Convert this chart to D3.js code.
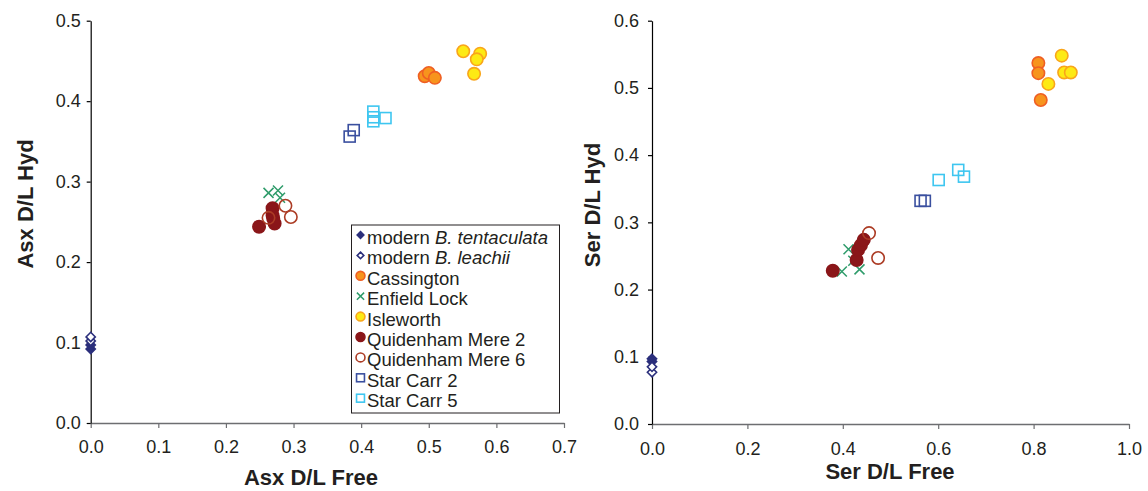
<!DOCTYPE html>
<html>
<head>
<meta charset="utf-8">
<script src="https://cdn.jsdelivr.net/npm/d3@7"></script>
<style>
  body { margin: 0; background: #fff; }
  svg { font-family: "Liberation Sans", Arial, sans-serif; }
</style>
</head>
<body>
<svg id="chart" width="1148" height="491"></svg>
<script>
// series, in legend order
var seriesNames = ["modern B. tentaculata", "modern B. leachii", "Cassington", "Enfield Lock",
    "Isleworth", "Quidenham Mere 2", "Quidenham Mere 6", "Star Carr 2", "Star Carr 5"];

// [free, hyd] pairs per series, Asx (left panel)
var asxPoints = [
    [[0, 0.092], [0, 0.097]],
    [[0, 0.102], [0, 0.107]],
    [[0.494, 0.431], [0.500, 0.435], [0.509, 0.429]],
    [[0.263, 0.286], [0.277, 0.289], [0.280, 0.280]],
    [[0.551, 0.462], [0.576, 0.459], [0.571, 0.452], [0.567, 0.434]],
    [[0.249, 0.244], [0.269, 0.267], [0.269, 0.258], [0.270, 0.254], [0.272, 0.248]],
    [[0.263, 0.255], [0.288, 0.270], [0.296, 0.256]],
    [[0.389, 0.364], [0.383, 0.356]],
    [[0.418, 0.387], [0.418, 0.380], [0.418, 0.375], [0.436, 0.379]]
];

// [free, hyd] pairs per series, Ser (right panel)
var serPoints = [
    [[0, 0.093], [0, 0.097]],
    [[0, 0.077], [0, 0.085]],
    [[0.810, 0.537], [0.810, 0.522], [0.815, 0.482]],
    [[0.412, 0.260], [0.398, 0.227], [0.435, 0.230], [0.422, 0.243]],
    [[0.859, 0.548], [0.864, 0.523], [0.878, 0.523], [0.831, 0.506]],
    [[0.379, 0.228], [0.429, 0.244], [0.432, 0.259], [0.438, 0.266], [0.444, 0.274]],
    [[0.455, 0.284], [0.474, 0.247]],
    [[0.563, 0.332], [0.572, 0.332]],
    [[0.601, 0.363], [0.642, 0.378], [0.654, 0.368]]
];

var asxXTicks = [0, 0.1, 0.2, 0.3, 0.4, 0.5, 0.6, 0.7];
var asxYTicks = [0, 0.1, 0.2, 0.3, 0.4, 0.5];
var serXTicks = [0, 0.2, 0.4, 0.6, 0.8, 1.0];
var serYTicks = [0, 0.1, 0.2, 0.3, 0.4, 0.5, 0.6];

// marker look for each series
var markerStyle = {
    "modern B. tentaculata": {shape: "diamond", fill: "#2b2f7c", stroke: "#2b2f7c"},
    "modern B. leachii":     {shape: "diamond", fill: "#fff", stroke: "#2b2f7c"},
    "Cassington":            {shape: "circle", fill: "#f7941d", stroke: "#ef5f23"},
    "Enfield Lock":          {shape: "cross", fill: "none", stroke: "#2f9c6b"},
    "Isleworth":             {shape: "circle", fill: "#fdea14", stroke: "#f9a51b"},
    "Quidenham Mere 2":      {shape: "circle", fill: "#8a1619", stroke: "#8a1619"},
    "Quidenham Mere 6":      {shape: "circle", fill: "none", stroke: "#ac3c25"},
    "Star Carr 2":           {shape: "square", fill: "none", stroke: "#3a4f9f"},
    "Star Carr 5":           {shape: "square", fill: "none", stroke: "#3ec6f0"}
};

var FONT = '"Liberation Sans", Arial, sans-serif';
var svg = d3.select("#chart");

function drawMarker(g, name, x, y, scale) {
    var st = markerStyle[name];
    var s = scale || 1;
    if (st.shape == "circle") {
        g.append("circle").attr("cx", x).attr("cy", y).attr("r", 6.2 * s)
            .attr("fill", st.fill).attr("stroke", st.stroke).attr("stroke-width", 1.6);
    } else if (st.shape == "square") {
        var h = 5.5 * s;
        g.append("rect").attr("x", x - h).attr("y", y - h).attr("width", 2 * h).attr("height", 2 * h)
            .attr("fill", st.fill).attr("stroke", st.stroke).attr("stroke-width", 1.6);
    } else if (st.shape == "diamond") {
        var d = 4.6 * s;
        g.append("path")
            .attr("d", "M" + x + "," + (y - d) + "L" + (x + d) + "," + y + "L" + x + "," + (y + d) + "L" + (x - d) + "," + y + "Z")
            .attr("fill", st.fill).attr("stroke", st.stroke).attr("stroke-width", 1.6);
    } else if (st.shape == "cross") {
        var c = 5 * s;
        g.append("path")
            .attr("d", "M" + (x - c) + "," + (y - c) + "L" + (x + c) + "," + (y + c) + "M" + (x - c) + "," + (y + c) + "L" + (x + c) + "," + (y - c))
            .attr("stroke", st.stroke).attr("stroke-width", 1.5).attr("fill", "none");
    }
}

function drawPanel(opts) {
    var x = d3.scaleLinear().domain(opts.xDomain).range([opts.left, opts.right]);
    var y = d3.scaleLinear().domain(opts.yDomain).range([opts.bottom, opts.top]);

    var gx = svg.append("g")
        .attr("transform", "translate(0," + opts.bottom + ")")
        .call(d3.axisBottom(x).tickValues(opts.xTicks).tickFormat(d3.format(".1f")).tickSize(5).tickSizeOuter(0))
        .attr("font-family", FONT).attr("font-size", 18);
    gx.select(".domain").attr("stroke", "#6d6e71").attr("stroke-width", 1.3);
    gx.selectAll(".tick line").attr("stroke", "#6d6e71").attr("stroke-width", 1.2);
    gx.selectAll(".tick text").attr("y", opts.xLabelY).attr("dy", 0).attr("fill", "#231f20");

    var gy = svg.append("g")
        .attr("transform", "translate(" + opts.left + ",0)")
        .call(d3.axisLeft(y).tickValues(opts.yTicks).tickFormat(d3.format(".1f")).tickSize(4).tickSizeOuter(0))
        .attr("font-family", FONT).attr("font-size", 18);
    gy.select(".domain").attr("stroke", "#000").attr("stroke-width", 1.2);
    gy.selectAll(".tick line").attr("stroke", "#000").attr("stroke-width", 1.2);
    gy.selectAll(".tick text").attr("x", opts.yLabelX).attr("fill", "#231f20");

    svg.append("text")
        .attr("x", opts.xTitleX).attr("y", opts.xTitleY)
        .attr("text-anchor", "middle").attr("font-weight", "bold").attr("font-size", 22)
        .attr("fill", "#231f20").text(opts.xTitle);

    svg.append("text")
        .attr("transform", "translate(" + opts.yTitleX + "," + opts.yTitleY + ") rotate(-90)")
        .attr("text-anchor", "middle").attr("font-weight", "bold").attr("font-size", 22)
        .attr("fill", "#231f20").text(opts.yTitle);

    var marks = svg.append("g");
    seriesNames.forEach(function(name, i) {
        opts.points[i].forEach(function(p) {
            drawMarker(marks, name, x(p[0]), y(p[1]));
        });
    });
}

drawPanel({
    left: 90.7, right: 564, top: 20.7, bottom: 423,
    xDomain: [0, 0.7], yDomain: [0, 0.5],
    xTicks: asxXTicks, yTicks: asxYTicks,
    xLabelY: 30, yLabelX: -10,
    points: asxPoints,
    xTitle: "Asx D/L Free", xTitleX: 311, xTitleY: 485,
    yTitle: "Asx D/L Hyd", yTitleX: 33, yTitleY: 204
});

drawPanel({
    left: 652, right: 1129, top: 20.7, bottom: 424,
    xDomain: [0, 1.0], yDomain: [0, 0.6],
    xTicks: serXTicks, yTicks: serYTicks,
    xLabelY: 31, yLabelX: -13,
    points: serPoints,
    xTitle: "Ser D/L Free", xTitleX: 890, xTitleY: 479,
    yTitle: "Ser D/L Hyd", yTitleX: 600, yTitleY: 205
});

// legend
var legend = svg.append("g");
legend.append("rect")
    .attr("x", 351.5).attr("y", 225).attr("width", 208).attr("height", 188)
    .attr("fill", "#fff").attr("stroke", "#231f20").attr("stroke-width", 1);

seriesNames.forEach(function(name, i) {
    var ly = 241 + i * 20.4;
    drawMarker(legend, name, 360.5, ly - 6, 0.72);
    var t = legend.append("text")
        .attr("x", 367).attr("y", ly + 3)
        .attr("font-size", 18.5).attr("fill", "#231f20");
    if (name.indexOf("modern ") == 0) {
        t.append("tspan").text("modern ");
        t.append("tspan").attr("font-style", "italic").text(name.slice(7));
    } else {
        t.text(name);
    }
});
</script>
</body>
</html>
